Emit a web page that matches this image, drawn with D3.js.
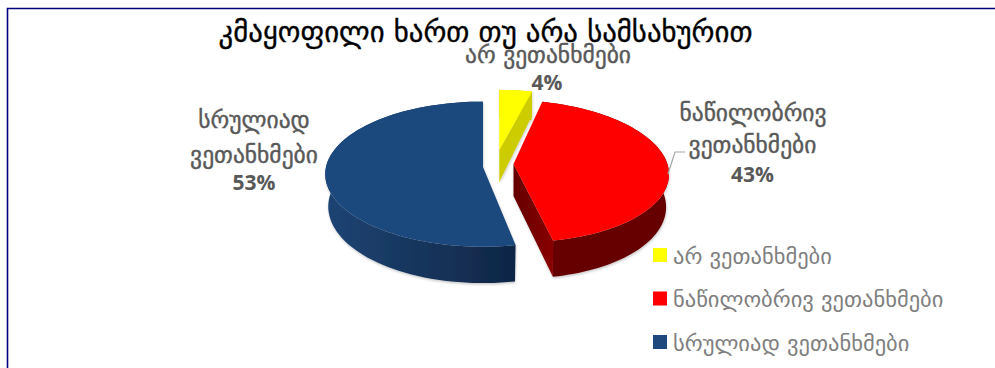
<!DOCTYPE html>
<html><head><meta charset="utf-8">
<script src="https://cdnjs.cloudflare.com/ajax/libs/d3/7.8.5/d3.min.js"></script>
<style>html,body{margin:0;padding:0;background:#fff}svg{display:block}text{font-family:"DejaVu Sans",sans-serif}text.pct{font-family:"Open Sans",sans-serif;font-weight:700}</style>
</head><body><svg id="c" width="995" height="368"></svg>
<script>
const categories = ["არ ვეთანხმები", "ნაწილობრივ ვეთანხმები", "სრულიად ვეთანხმები"];
const values = [4, 43, 53];
const colors = ["#ffff00", "#ff0000", "#1f497d"];
const titleText = "კმაყოფილი ხართ თუ არა სამსახურით";

const svg = d3.select("#c");
const W = 995, H = 368;

// Perspective-tilted disc: unit circle (u,v) projected to the page.
const rx = 157, ry = 71.8, persp = 0.0986, depth = 32;
const slices = d3.pie().sort(null).value(d => d)(values);
// Exploded slices move away from the disc centre and lean with the perspective.
const origins = [
  {x:499.3, y:150, k:0.92, skew:0},
  {x:513.5, y:164, k:0.98, skew:0.1},
  {x:483,   y:167, k:1,    skew:0}
];

function topPt(a, o){
  const u = Math.sin(a), v = -Math.cos(a), s = 1/(1-persp*v);
  const dy = ry*o.k*v*s;
  return [o.x + rx*o.k*u*s + o.skew*dy, o.y + dy];
}
function botPt(a, o){
  const u = Math.sin(a), v = -Math.cos(a), s = 1/(1-persp*v);
  const dy = (ry+4)*o.k*v*s;
  return [o.x + (rx-3)*o.k*u*s + o.skew*dy, o.y + depth + dy];
}
const line = d3.line();
const sample = (a0,a1,n=80) => d3.range(n+1).map(i => a0+(a1-a0)*i/n);

const defs = svg.append("defs");
const wallGrad = defs.append("linearGradient").attr("id","blueWall")
  .attr("gradientUnits","userSpaceOnUse").attr("x1",325).attr("x2",515).attr("y1",0).attr("y2",0);
wallGrad.append("stop").attr("offset",0).attr("stop-color","#1e4474");
wallGrad.append("stop").attr("offset",1).attr("stop-color","#0f2645");
const redCut = defs.append("linearGradient").attr("id","redCut")
  .attr("gradientUnits","userSpaceOnUse").attr("x1",514).attr("x2",553).attr("y1",0).attr("y2",0);
redCut.append("stop").attr("offset",0).attr("stop-color","#640000");
redCut.append("stop").attr("offset",1).attr("stop-color","#8a0000");
const shadow = defs.append("filter").attr("id","soft").attr("x","-10%").attr("y","-10%").attr("width","120%").attr("height","125%");
shadow.append("feDropShadow").attr("dx",0.5).attr("dy",1.5).attr("stdDeviation",1.2).attr("flood-color","#000").attr("flood-opacity",0.22);

// Page frame: top and left rules only.
const frame = d3.path();
frame.moveTo(7.5,H); frame.lineTo(7.5,8.5); frame.lineTo(W,8.5);
svg.append("path").attr("d",frame.toString()).attr("fill","none").attr("stroke","#000080").attr("stroke-width",1.6);

const pie = svg.append("g").attr("filter","url(#soft)");
const wallFill = ["#cccc00","#660000","url(#blueWall)"];

// Draw order: yellow wedge behind, then blue, then red.
[0,2,1].forEach(i => {
  const sl = slices[i], o = origins[i], g = pie.append("g");
  const as = sample(sl.startAngle, sl.endAngle);
  const tops = as.map(a => topPt(a,o)), bots = as.map(a => botPt(a,o));
  // outer wall
  g.append("path").attr("d", line(tops.concat(bots.slice().reverse()))+"Z").attr("fill",wallFill[i]);
  // cut face on the side nearest the viewer
  if (i === 1) {
    const t = topPt(sl.endAngle,o), b = botPt(sl.endAngle,o);
    g.append("path").attr("d", line([[o.x,o.y],t,b,[o.x,o.y+depth]])+"Z").attr("fill","url(#redCut)");
  }
  if (i === 0) {
    const t = topPt(sl.endAngle,o), b = [t[0], t[1]+24];
    g.append("path").attr("d", line([[o.x,o.y],t,b,[o.x,o.y+depth]])+"Z").attr("fill","#cccc00");
  }
  // top face
  g.append("path").attr("d", line([[o.x,o.y]].concat(tops))+"Z").attr("fill",colors[i]);
});

// Leader for the middle slice label
svg.append("path").attr("d", line([[668,174],[675,152],[685,152]])).attr("fill","none").attr("stroke","#a6a6a6").attr("stroke-width",1.2);

svg.append("text").attr("x",485.5).attr("y",42).attr("text-anchor","middle").attr("font-size",28.8)
  .attr("fill","#000").attr("stroke","#000").attr("stroke-width",0.35).text(titleText);

const labelRows = [
  {i:0, lines:["არ ვეთანხმები"], xs:[548], ys:[63], px:547, py:90},
  {i:1, lines:["ნაწილობრივ","ვეთანხმები"], xs:[753,752.5], ys:[121,153], px:752.5, py:182},
  {i:2, lines:["სრულიად","ვეთანხმები"], xs:[254,254], ys:[128,163], px:254, py:190}
];
labelRows.forEach(r => {
  r.lines.forEach((t,k) => svg.append("text").attr("x",r.xs[k]).attr("y",r.ys[k]).attr("text-anchor","middle")
    .attr("font-size",23.5).attr("fill","#595959").attr("stroke","#595959").attr("stroke-width",0.4).text(t));
  svg.append("text").attr("class","pct").attr("x",r.px).attr("y",r.py).attr("text-anchor","middle").attr("font-size",21)
    .attr("fill","#595959").text(values[r.i]+"%");
});

// Legend
const legendY = d3.scalePoint().domain(categories).range([248,335]);
const lg = svg.append("g").selectAll("g").data(categories).join("g");
lg.append("rect").attr("x",653).attr("y",d=>legendY(d)).attr("width",14).attr("height",14).attr("fill",(d,i)=>colors[i]);
lg.append("text").attr("x",673).attr("y",d=>legendY(d)+15.5).attr("font-size",22.5).attr("fill","#7f7f7f").text(d=>d);
</script></body></html>
